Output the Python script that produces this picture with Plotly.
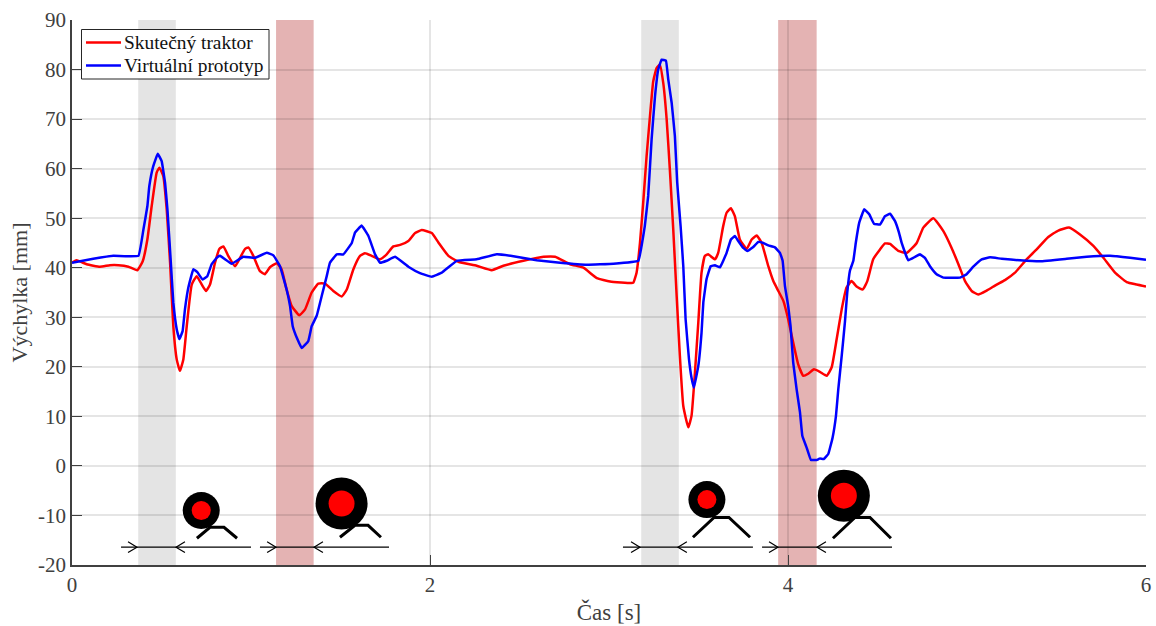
import plotly.graph_objects as go

red_t = [0,.026,.082,.156,.212,.259,.315,.365,.395,.421,.445,.473,.488,.51,.529,.548,.566,.585,.603,.622,.641,.669,.697,.725,.749,.771,.799,.823,.846,.873,.911,.939,.967,.985,1.013,1.05,1.078,1.106,1.144,1.171,1.199,1.227,1.27,1.302,1.339,1.376,1.414,1.46,1.507,1.535,1.572,1.609,1.637,1.674,1.721,1.758,1.795,1.833,1.879,1.917,1.954,2.01,2.047,2.103,2.159,2.261,2.345,2.41,2.522,2.634,2.699,2.782,2.857,2.932,3.006,3.125,3.136,3.154,3.173,3.191,3.21,3.229,3.247,3.266,3.284,3.303,3.322,3.34,3.359,3.378,3.396,3.415,3.443,3.461,3.48,3.499,3.517,3.536,3.554,3.592,3.61,3.638,3.657,3.681,3.703,3.731,3.769,3.797,3.825,3.853,3.89,3.918,3.946,3.974,4.001,4.029,4.057,4.085,4.113,4.145,4.178,4.216,4.244,4.272,4.3,4.327,4.355,4.383,4.417,4.443,4.476,4.514,4.542,4.57,4.616,4.663,4.719,4.756,4.812,4.868,4.914,4.952,4.989,5.026,5.063,5.11,5.166,5.212,5.268,5.333,5.389,5.454,5.51,5.57,5.631,5.706,5.762,5.827,5.892,5.948,6.0]
red_y = [41,41.5,40.7,40.2,40.5,40.5,40.2,39.5,41.3,45.7,52.4,59.2,60.2,58.5,51.8,41,28.2,21.5,19.2,21.5,28.2,36.6,38.3,36.6,35.3,36.6,41,43.8,44.3,42.4,40.3,42,43.8,44.1,42.4,39.3,38.7,40.1,40.9,39.7,35.6,32.3,30.4,31.6,35,36.8,36.8,35.3,34.2,35.6,39.7,42.4,42.9,42.4,41.7,42.7,44.3,44.6,45.4,47,47.6,47,45.1,42.4,41.2,40.4,39.5,40.4,41.4,42.2,42.2,40.7,40,37.9,37.2,36.9,37,39,45,53.1,62.5,70.6,77.6,80.3,81,77.3,70,59.8,47.7,34.3,22.2,12.1,7.8,10.1,18.8,29,39,42.4,42.7,41.7,43,48.4,51.1,52,50.4,45.7,43.8,45.7,46.5,45,40.3,37.3,35.3,33.3,29.6,24.9,20.5,18.2,18.6,19.5,19,18.2,19.9,25.6,31.6,36,37.3,36.2,35.6,37.3,41.7,43.7,44.9,44.8,43.4,43,45,48.1,50,47.4,44,40.7,37.3,35.3,34.6,35.4,36.6,37.5,39,41.7,43.7,46.2,47.5,48.1,46.7,44.4,42,39,37.1,36.6,36.2]

blue_t = [0,.119,.231,.371,.399,.421,.432,.454,.479,.501,.52,.533,.551,.566,.585,.6,.618,.631,.65,.678,.7,.73,.756,.78,.808,.827,.855,.892,.929,.957,1.022,1.088,1.125,1.162,1.199,1.218,1.233,1.259,1.283,1.32,1.339,1.367,1.395,1.423,1.441,1.479,1.516,1.563,1.581,1.618,1.656,1.693,1.721,1.758,1.805,1.879,1.944,2.01,2.066,2.149,2.261,2.373,2.466,2.596,2.727,2.876,3.025,3.164,3.182,3.2,3.219,3.238,3.257,3.275,3.294,3.318,3.331,3.35,3.368,3.381,3.4,3.415,3.428,3.447,3.461,3.474,3.499,3.517,3.527,3.545,3.568,3.592,3.62,3.657,3.681,3.703,3.722,3.75,3.772,3.806,3.834,3.862,3.89,3.927,3.955,3.97,3.983,4.001,4.014,4.029,4.048,4.067,4.08,4.104,4.128,4.16,4.178,4.2,4.225,4.249,4.268,4.281,4.3,4.318,4.331,4.346,4.365,4.379,4.398,4.426,4.454,4.48,4.514,4.542,4.57,4.598,4.62,4.635,4.672,4.71,4.737,4.765,4.793,4.83,4.868,4.961,4.998,5.035,5.082,5.129,5.194,5.296,5.408,5.557,5.669,5.799,5.911,6.0]
blue_y = [41,41.8,42.4,42.4,47.7,52.4,56.5,60.5,63,61.5,57.1,51.8,41.7,33,27.6,25.6,27.2,31.6,36,39.7,39.1,37.6,38.3,40.7,42,42.4,41.7,40.8,41.6,42.2,42,43,42.5,40.3,35.6,32.3,28.2,25.6,23.8,25.2,28.2,30.3,34.3,38.3,41,42.7,42.7,45,47.1,48.5,46.4,42.7,41,41.4,42.2,40.2,38.9,38.2,39,41.4,41.7,42.7,42.3,41.5,41,40.6,40.8,41.4,44.4,48.4,54.5,65.9,74.6,80,82,81.8,78,73.3,66.6,57.2,48.4,40.3,29.6,21.5,17.8,15.8,20.2,26.9,33,37.7,40.3,40.5,40.1,43,45.7,46.4,45.4,44,43.4,44.2,45.2,45,44.5,44.1,43,41.4,36.3,32.3,28.3,20.9,15.5,10.8,6.1,3.7,1.2,1.2,1.5,1.4,2.4,5.7,10.1,15.5,22.2,29,35,39.4,41.4,45.1,49.1,51.8,50.8,48.9,48.7,50.4,50.9,49.4,47.1,45,41.5,42.2,42.7,42,40.3,38.7,38,38,38.7,40.2,41.7,42.1,41.8,41.5,41.3,41.8,42.2,42.4,42,41.6]

band_start = [0.37, 1.14, 3.18, 3.945]
band_end = [0.58, 1.35, 3.39, 4.16]
band_colors = ["#e4e4e4", "#e4b3b3", "#e4e4e4", "#e4b3b3"]

wheel_t = [0.722, 1.506, 3.547, 4.312]
wheel_y = [-9, -7.6, -6.8, -6]
wheel_outer = [37, 52, 37, 52]
wheel_inner = [19, 26, 19, 26]

ramp_t = [[0.698,0.771,0.849,0.922],[1.497,1.581,1.654,1.726],[3.469,3.587,3.670,3.788],[4.251,4.374,4.458,4.575]]
ramp_y = [[-14.6,-12.4,-12.4,-14.6],[-14.4,-12,-12,-14.4],[-14.4,-10.4,-10.4,-14.4],[-14.6,-10.4,-10.4,-14.6]]

arrow_from = [0.274, 1.050, 3.078, 3.855]
arrow_to = [1.000, 1.771, 3.804, 4.581]
arrow_in = [0.363, 1.140, 3.173, 3.944]
arrow_out = [0.581, 1.352, 3.385, 4.162]
arrow_y = -16.4
head_dt = 0.05
head_dy = 1.1

legend_labels = ["Skutečný traktor", "Virtuální prototyp"]
line_colors = ["#ff0000", "#0000ff"]
y_ticks = list(range(-20, 100, 10))
y_tick_labels = [str(v) for v in y_ticks]

tick_color = "#404040"
serif = "Liberation Serif"

fig = go.Figure()
for a, b, c in zip(band_start, band_end, band_colors):
    fig.add_shape(type="rect", xref="x", yref="y", x0=a, x1=b, y0=-20, y1=90,
                  fillcolor=c, line_width=0, layer="below")

fig.add_trace(go.Scatter(x=red_t, y=red_y, mode="lines", name=legend_labels[0], showlegend=False,
                         line=dict(color=line_colors[0], width=2.5, shape="spline", smoothing=0.4)))
fig.add_trace(go.Scatter(x=blue_t, y=blue_y, mode="lines", name=legend_labels[1], showlegend=False,
                         line=dict(color=line_colors[1], width=2.5, shape="spline", smoothing=0.25)))

for i in range(4):
    fig.add_trace(go.Scatter(x=ramp_t[i], y=ramp_y[i], mode="lines", showlegend=False,
                             line=dict(color="black", width=3)))
    ax, ay = [], []
    ax += [arrow_from[i], arrow_to[i], None]
    ay += [arrow_y, arrow_y, None]
    ax += [arrow_in[i]-head_dt, arrow_in[i], arrow_in[i]-head_dt, None]
    ay += [arrow_y+head_dy, arrow_y, arrow_y-head_dy, None]
    ax += [arrow_out[i]+head_dt, arrow_out[i], arrow_out[i]+head_dt, None]
    ay += [arrow_y+head_dy, arrow_y, arrow_y-head_dy, None]
    fig.add_trace(go.Scatter(x=ax, y=ay, mode="lines", showlegend=False,
                             line=dict(color="black", width=1.2)))

fig.add_trace(go.Scatter(x=wheel_t, y=wheel_y, mode="markers", showlegend=False,
                         marker=dict(color="black", size=wheel_outer, line_width=0, opacity=1)))
fig.add_trace(go.Scatter(x=wheel_t, y=wheel_y, mode="markers", showlegend=False,
                         marker=dict(color="#ff0000", size=wheel_inner, line_width=0, opacity=1)))

W, H, L, T = 1074.0, 545.0, 72.0, 20.0
fx = lambda p: (p - L) / W
fy = lambda p: 1 - (p - T) / H
fig.add_shape(type="rect", xref="paper", yref="paper", x0=fx(81.5), x1=fx(269), y0=fy(29.5), y1=fy(79),
              fillcolor="white", line=dict(color="#262626", width=1), layer="above")
for label, color, py in zip(legend_labels, line_colors, [42.5, 65.5]):
    fig.add_shape(type="line", xref="paper", yref="paper", x0=fx(86), x1=fx(121), y0=fy(py), y1=fy(py),
                  line=dict(color=color, width=2.5), layer="above")
    fig.add_annotation(xref="paper", yref="paper", x=fx(122), y=fy(py), text=label, showarrow=False,
                       xanchor="left", yanchor="middle", font=dict(size=19.4, color="#111111", family=serif))

fig.update_layout(
    width=1156, height=626, paper_bgcolor="white", plot_bgcolor="white",
    margin=dict(l=72, r=10, t=20, b=61, autoexpand=False),
    font=dict(family=serif, size=21, color=tick_color),
    showlegend=False,
)
fig.update_xaxes(range=[0, 6], tickvals=[0, 2, 4, 6], ticks="inside", ticklen=10, tickwidth=1,
                 tickcolor=tick_color, showline=True, linecolor=tick_color, linewidth=1.5,
                 gridcolor="rgba(0,0,0,0.1)", gridwidth=1.5, zeroline=False, automargin=False,
                 title=dict(text="Čas [s]", standoff=8, font=dict(size=23)))
fig.update_yaxes(range=[-20, 90], tickvals=y_ticks, ticktext=y_tick_labels, ticks="inside", ticklen=10, tickwidth=1,
                 tickcolor=tick_color, showline=True, linecolor=tick_color, linewidth=1.5,
                 gridcolor="rgba(0,0,0,0.1)", gridwidth=1.5, zeroline=False, automargin=False,
                 title=dict(text="Výchylka [mm]", standoff=4, font=dict(size=22)))

fig.write_html("out.html", config=dict(displayModeBar=False), post_script="document.body.style.margin='0';")
